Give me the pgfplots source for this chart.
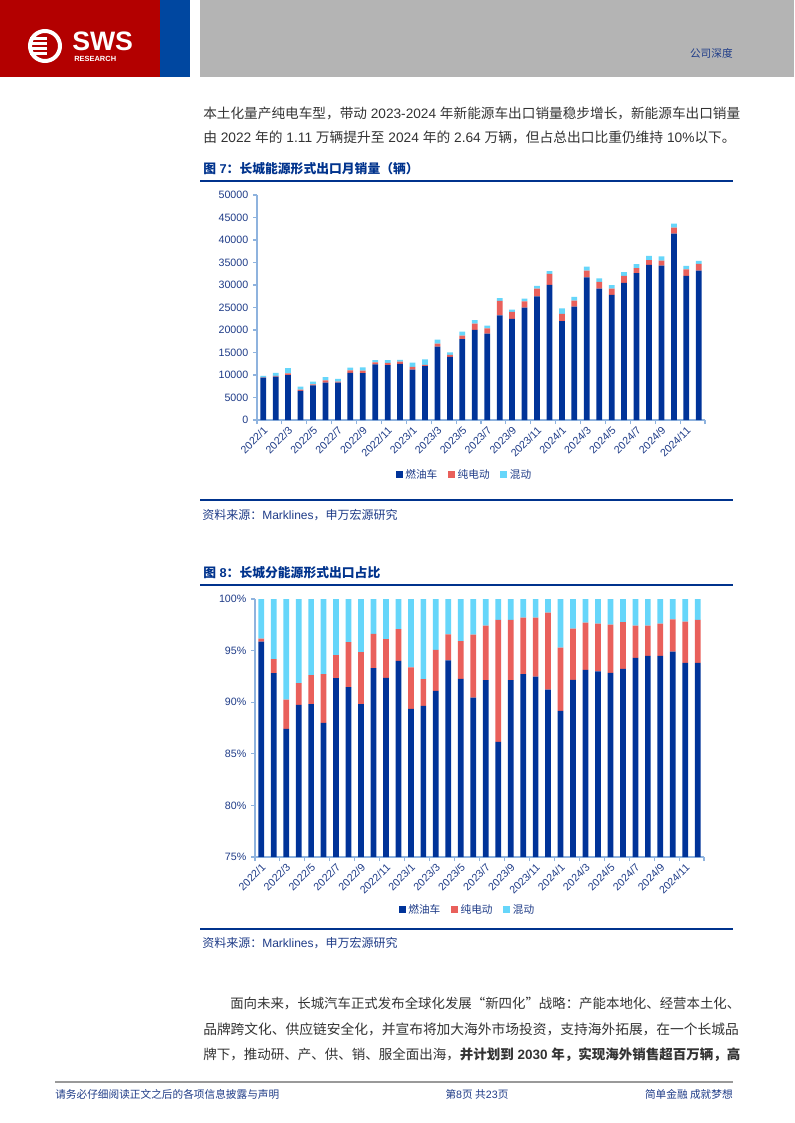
\documentclass[border=0pt]{standalone}
\usepackage{pgfplots}
\pgfplotsset{compat=1.18}
\usepackage{pgfplotstable}
\usepackage{graphicx}
\usepackage{fontspec}
\setmainfont{Noto Sans CJK SC}
\newfontfamily\arial{Liberation Sans}
\newcommand\La[1]{{\arial #1}}
\definecolor{hdrred}{HTML}{B30000}
\definecolor{hdrblue}{HTML}{0047A0}
\definecolor{hdrgray}{HTML}{B4B4B4}
\definecolor{navy}{HTML}{00338D}
\definecolor{txtblue}{HTML}{1F3C88}
\definecolor{ice}{HTML}{003399}
\definecolor{bev}{HTML}{E9605B}
\definecolor{hev}{HTML}{66D6FA}
\definecolor{axisblue}{HTML}{8FB3DE}
\definecolor{bodytxt}{HTML}{333333}

\pgfplotstableread{
x ice bev hev
0 9400 50 330
1 9650 150 700
2 10000 350 1200
3 6500 250 650
4 7700 220 600
5 8300 500 750
6 8300 220 600
7 10500 520 600
8 10400 600 700
9 12350 450 500
10 12200 500 600
11 12500 450 400
12 11200 600 950
13 12000 250 1250
14 16300 650 900
15 14050 400 600
16 18000 750 900
17 20050 1350 800
18 19200 1150 600
19 23250 3250 600
20 22500 1550 500
21 24950 1400 600
22 27500 1700 600
23 30050 2450 600
24 22000 1600 1200
25 25200 1350 800
26 31700 1500 900
27 29200 1500 800
28 27800 1400 750
29 30500 1550 800
30 32650 1100 900
31 34500 1050 950
32 34300 1100 950
33 41400 1350 900
34 32050 1400 800
35 33200 1500 650
}\vol

\pgfplotstableread{
x ice bev hev
0 95.86 0.29 3.85
1 92.82 1.35 5.83
2 87.41 2.85 9.74
3 89.74 2.10 8.16
4 89.81 2.81 7.38
5 88.00 4.72 7.28
6 92.33 2.23 5.44
7 91.46 4.37 4.17
8 89.81 5.04 5.15
9 93.30 3.33 3.37
10 92.36 3.76 3.88
11 94.01 3.08 2.91
12 89.35 4.02 6.63
13 89.64 2.59 7.77
14 91.10 3.98 4.92
15 94.05 2.52 3.43
16 92.27 3.65 4.08
17 90.45 6.09 3.46
18 92.14 5.27 2.59
19 86.15 11.84 2.01
20 92.14 5.85 2.01
21 92.72 5.47 1.81
22 92.49 5.70 1.81
23 91.23 7.44 1.33
24 89.16 6.12 4.72
25 92.17 4.95 2.88
26 93.14 4.56 2.30
27 92.98 4.63 2.39
28 92.85 4.66 2.49
29 93.24 4.53 2.23
30 94.30 3.11 2.59
31 94.50 2.91 2.59
32 94.50 3.11 2.39
33 94.89 3.14 1.97
34 93.82 3.98 2.20
35 93.82 4.17 2.01
}\share

\pgfplotsset{
  swsbars/.style={
    scale only axis,
    xmin=-0.5, xmax=35.5,
    axis x line*=bottom, axis y line*=left,
    axis line style={axisblue, line width=0.8pt},
    ybar stacked, bar width=4.3pt,
    xtick={0,2,...,34},
    xticklabels={2022/1,2022/3,2022/5,2022/7,2022/9,2022/11,2023/1,2023/3,2023/5,2023/7,2023/9,2023/11,2024/1,2024/3,2024/5,2024/7,2024/9,2024/11},
    major x tick style={draw=none},
    minor xtick={-0.5,1.5,...,35.5},
    minor tick length=3pt,
    minor x tick style={axisblue, line width=0.8pt},
    major y tick style={axisblue, line width=0.8pt},
    major tick length=3pt,
    tick align=outside,
    scaled y ticks=false,
    ticklabel style={font=\arial\fontsize{8}{9}\selectfont, text=txtblue},
    xticklabel style={rotate=45, anchor=north east, inner sep=0.5pt, xshift=-0.5pt},
    /pgf/number format/assume math mode=true,
    /pgf/number format/1000 sep={},
    legend style={draw=none, fill=none, legend columns=3, font=\fontsize{8}{9}\selectfont, text=txtblue,
      /tikz/every even column/.append style={column sep=6pt}, inner sep=0pt},
    legend image code/.code={\fill[##1] (0pt,-2.6pt) rectangle (5.2pt,2.6pt);},
    clip=true,
  }
}

\begin{document}
\begin{tikzpicture}
\path[use as bounding box, fill=white] (0,0) rectangle (595.5pt,-842.25pt);
\begin{scope}[x=0.75pt, y=-0.75pt]
  % header
  \fill[hdrred] (0,0) rectangle (160,77);
  \fill[hdrblue] (160,0) rectangle (190,77);
  \fill[hdrgray] (200,0) rectangle (794,77);
  \draw[white, line width=3pt] (45,46) circle (15);
  \foreach \yy in {-9,-4,1,6} { \fill[white] (30,46+\yy) rectangle (47,46+\yy+2.6); }
  \node[anchor=west, inner sep=0pt, text=white, font=\arial\fontsize{20}{20}\selectfont\bfseries] at (72,41) {SWS};
  \node[anchor=west, inner sep=0pt, text=white, font=\arial\fontsize{5.6}{6}\selectfont\bfseries] at (74,58.5) {RESEARCH};
  \node[anchor=east, inner sep=0pt, text=txtblue, font=\fontsize{8}{9}\selectfont] at (733,53) {公司深度};
  % body text
  \node[anchor=west, inner sep=0pt, text=bodytxt, font=\fontsize{10.3}{12}\selectfont] at (203,113) {\resizebox{402.75pt}{!}{本土化量产纯电车型，带动\La{ 2023-2024 }年新能源车出口销量稳步增长，新能源车出口销量}};
  \node[anchor=west, inner sep=0pt, text=bodytxt, font=\fontsize{10.3}{12}\selectfont] at (203,137) {由\La{ 2022 }年的\La{ 1.11 }万辆提升至\La{ 2024 }年的\La{ 2.64 }万辆，但占总出口比重仍维持\La{ 10\%}以下。};
  % figure 7 title
  \node[anchor=west, inner sep=0pt, text=navy, font=\fontsize{9.6}{11}\selectfont\bfseries] at (203,169) {图\La{ 7}：长城能源形式出口月销量（辆）};
  \draw[navy, line width=1.6pt] (200,181) -- (733,181);
  \draw[navy, line width=1.6pt] (200,500) -- (733,500);
  \node[anchor=west, inner sep=0pt, text=txtblue, font=\fontsize{9}{10}\selectfont] at (202,515) {资料来源：\La{Marklines}，申万宏源研究};
  % figure 8 title
  \node[anchor=west, inner sep=0pt, text=navy, font=\fontsize{9.6}{11}\selectfont\bfseries] at (203,573) {图\La{ 8}：长城分能源形式出口占比};
  \draw[navy, line width=1.6pt] (200,585) -- (733,585);
  \draw[navy, line width=1.6pt] (200,929) -- (733,929);
  \node[anchor=west, inner sep=0pt, text=txtblue, font=\fontsize{9}{10}\selectfont] at (202,943) {资料来源：\La{Marklines}，申万宏源研究};
  % paragraph
  \node[anchor=west, inner sep=0pt, text=bodytxt, font=\fontsize{10.3}{12}\selectfont] at (230,1003) {\resizebox{382.5pt}{!}{面向未来，长城汽车正式发布全球化发展“新四化”战略：产能本地化、经营本土化、}};
  \node[anchor=west, inner sep=0pt, text=bodytxt, font=\fontsize{10.3}{12}\selectfont] at (203,1029) {品牌跨文化、供应链安全化，并宣布将加大海外市场投资，支持海外拓展，在一个长城品};
  \node[anchor=west, inner sep=0pt, text=bodytxt, font=\fontsize{10.3}{12}\selectfont] at (203,1055) {\resizebox{402.75pt}{!}{牌下，推动研、产、供、销、服全面出海，\textbf{并计划到\La{ 2030 }年，实现海外销售超百万辆，高}}};
  % footer
  \draw[gray!80, line width=1.2pt] (55,1082) -- (733,1082);
  \node[anchor=west, inner sep=0pt, text=txtblue, font=\fontsize{8}{9}\selectfont] at (55,1094) {请务必仔细阅读正文之后的各项信息披露与声明};
  \node[anchor=center, inner sep=0pt, text=txtblue, font=\fontsize{8}{9}\selectfont] at (477,1094) {第\La{8}页 共\La{23}页};
  \node[anchor=east, inner sep=0pt, text=txtblue, font=\fontsize{8}{9}\selectfont] at (733,1094) {简单金融 成就梦想};
\end{scope}

% chart 1
\begin{axis}[swsbars,
  at={(192.75pt,-315pt)}, anchor=south west,
  width=336pt, height=168.75pt,
  ymin=0, ymax=50000, ytick={0,5000,...,50000},
  legend style={at={(0.464,-0.244)}, anchor=center},
]
\addplot[fill=ice, draw=none] table[x=x, y=ice] {\vol};
\addplot[fill=bev, draw=none] table[x=x, y=bev] {\vol};
\addplot[fill=hev, draw=none] table[x=x, y=hev] {\vol};
\legend{燃油车,纯电动,混动}
\end{axis}

% chart 2
\begin{axis}[swsbars,
  at={(191.25pt,-642.75pt)}, anchor=south west,
  width=336.75pt, height=193.5pt,
  ymin=75, ymax=100, ytick={75,80,...,100},
  yticklabel={\pgfmathprintnumber{\tick}\%},
  legend style={at={(0.474,-0.205)}, anchor=center},
]
\addplot[fill=ice, draw=none] table[x=x, y=ice] {\share};
\addplot[fill=bev, draw=none] table[x=x, y=bev] {\share};
\addplot[fill=hev, draw=none] table[x=x, y=hev] {\share};
\legend{燃油车,纯电动,混动}
\end{axis}
\end{tikzpicture}
\end{document}
